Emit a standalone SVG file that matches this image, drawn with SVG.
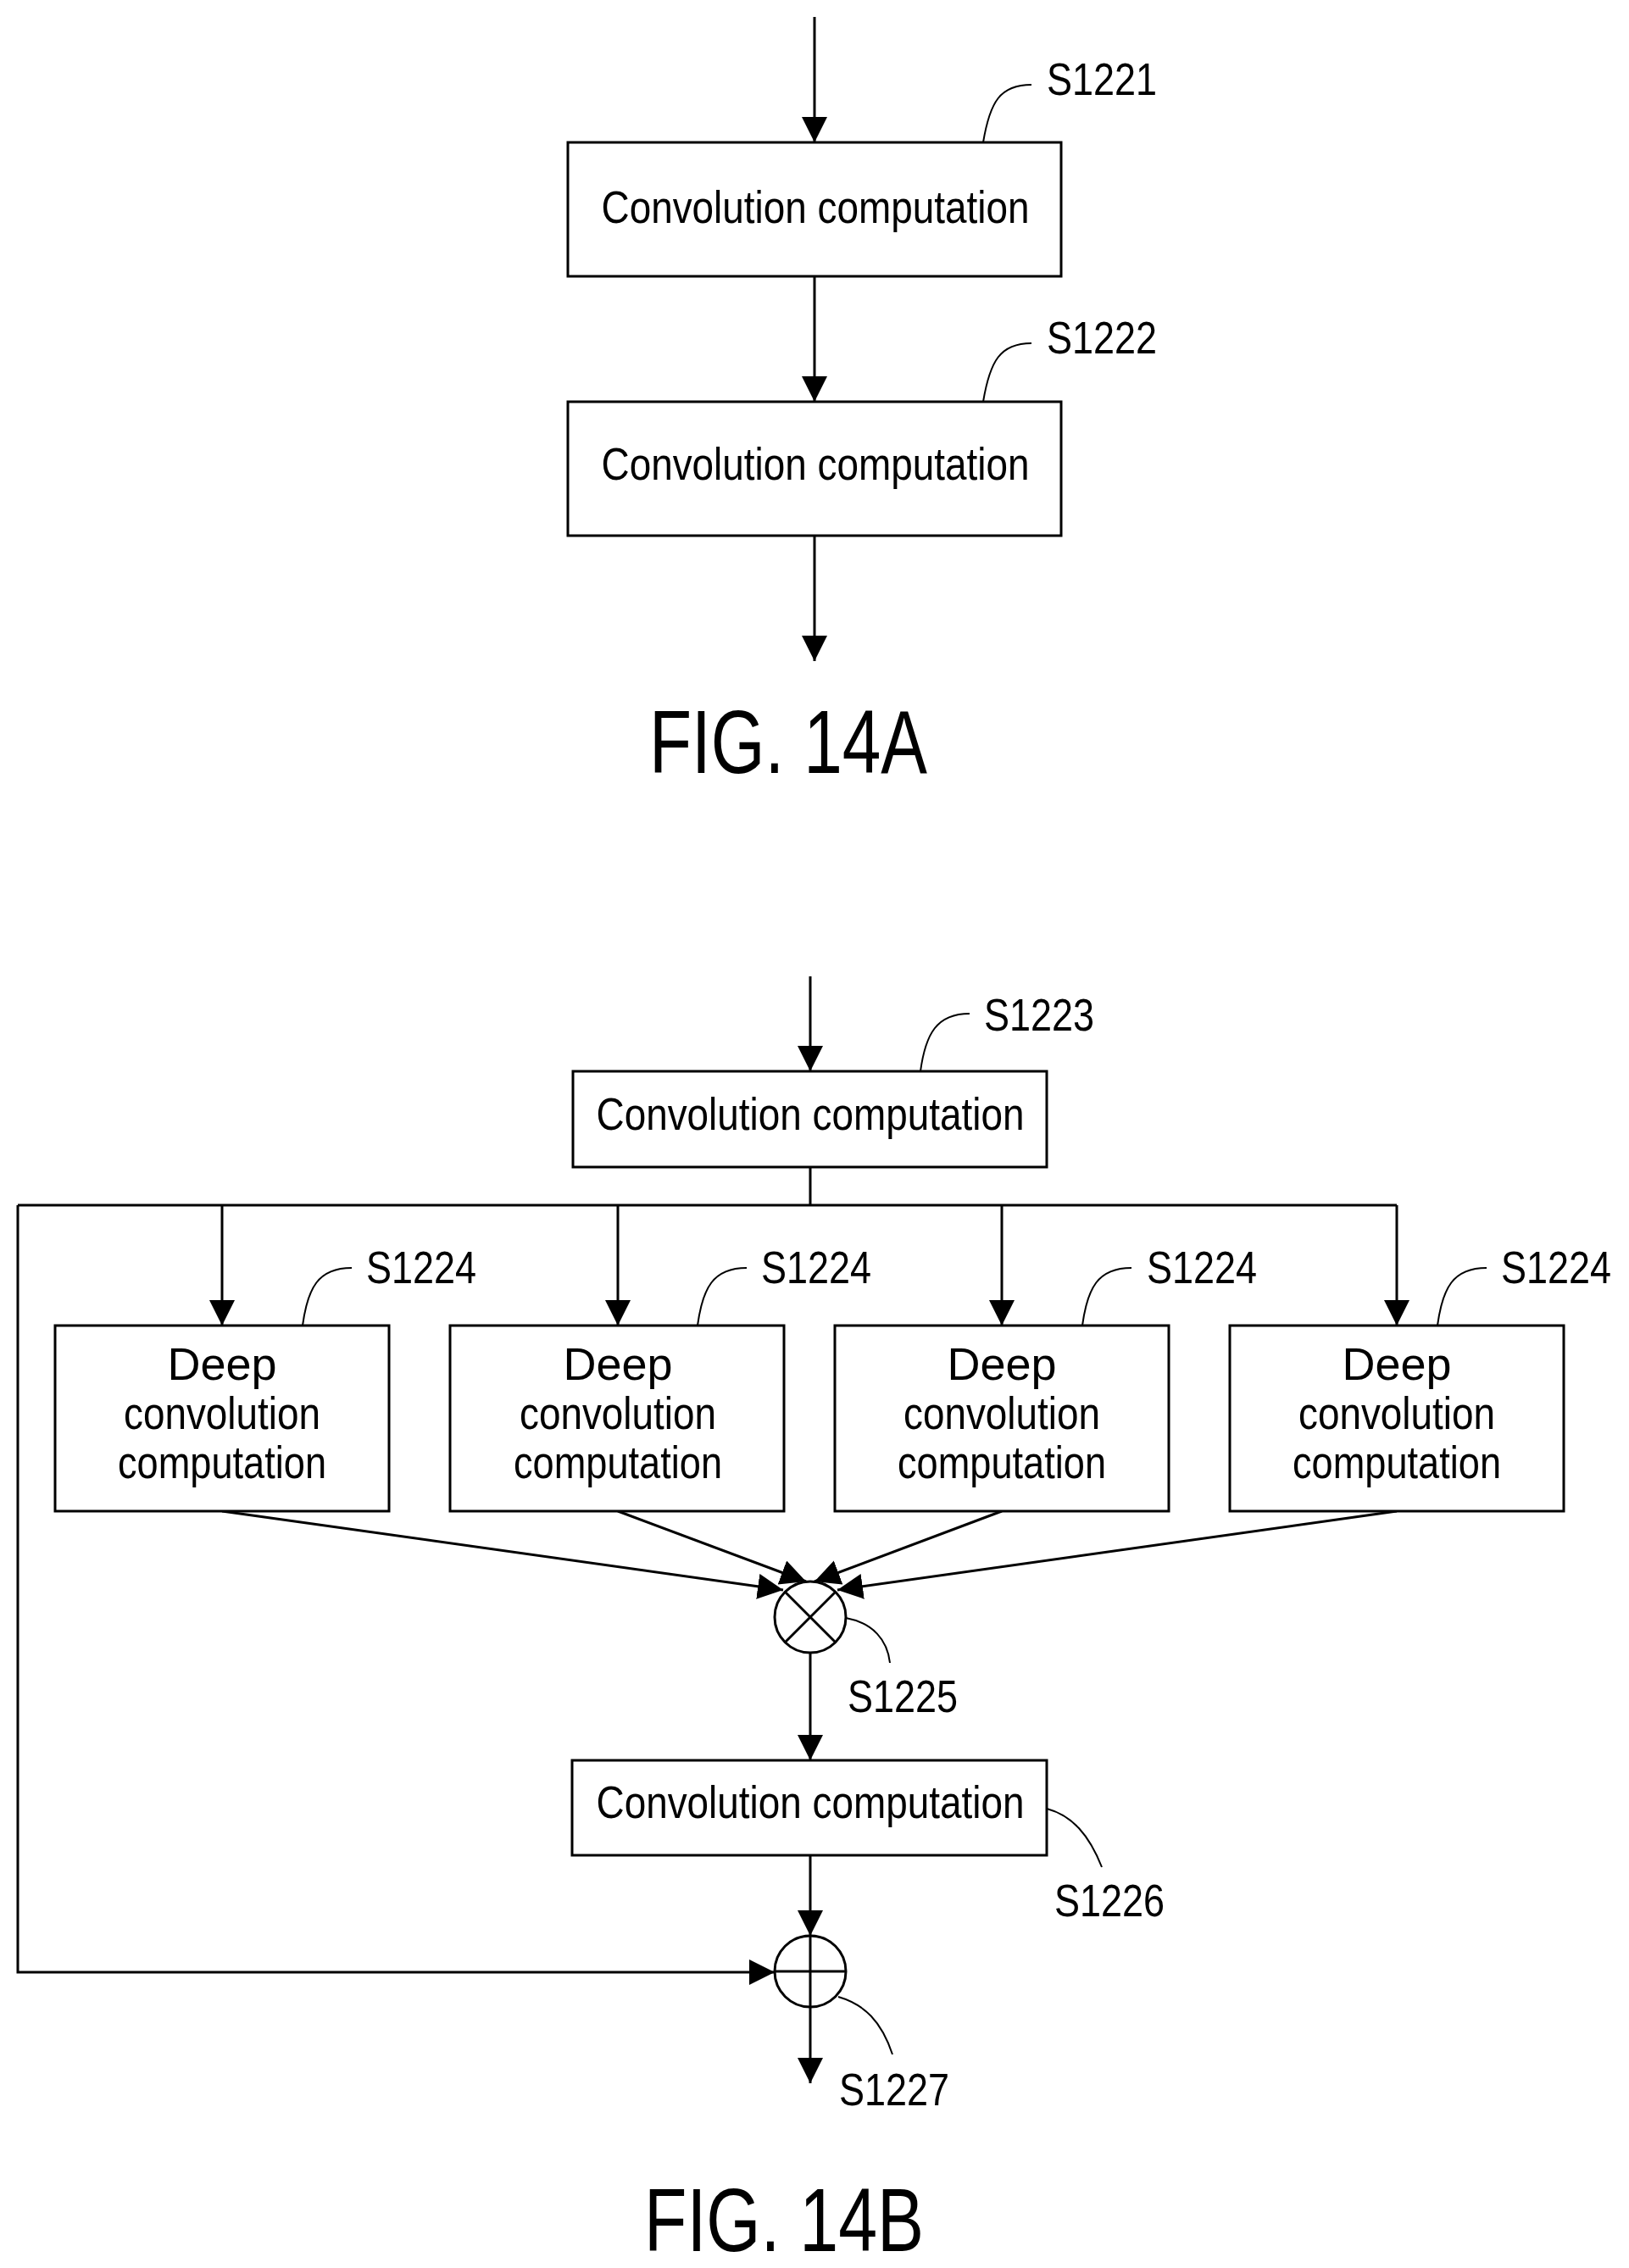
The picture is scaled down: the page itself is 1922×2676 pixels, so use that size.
<svg xmlns="http://www.w3.org/2000/svg" width="1922" height="2676" viewBox="0 0 1922 2676">
<style>
.box{fill:#fff;stroke:#000;stroke-width:3}
.ln{fill:none;stroke:#000;stroke-width:3}
.ld{fill:none;stroke:#000;stroke-width:2}
.t{font-family:"Liberation Sans",Arial,sans-serif;font-size:54px;fill:#000;text-anchor:middle}
.lb{font-family:"Liberation Sans",Arial,sans-serif;font-size:53px;fill:#000}
.fig{font-family:"Liberation Sans",Arial,sans-serif;font-size:106px;fill:#000}
</style>
<defs>
<marker id="ah" markerUnits="userSpaceOnUse" markerWidth="32" markerHeight="32" refX="30" refY="15" orient="auto">
<path d="M0,0 L30,15 L0,30 Z" fill="#000"/>
</marker>
</defs>
<rect width="1922" height="2676" fill="#fff"/>
<g id="connectors">
<line class="ln" x1="961" y1="20" x2="961" y2="168" marker-end="url(#ah)"/>
<line class="ln" x1="961" y1="326" x2="961" y2="474" marker-end="url(#ah)"/>
<line class="ln" x1="961" y1="632" x2="961" y2="780" marker-end="url(#ah)"/>
<line class="ln" x1="956" y1="1152" x2="956" y2="1264" marker-end="url(#ah)"/>
<polyline class="ln" points="956,1377 956,1422"/>
<line class="ln" x1="21" y1="1422" x2="1648" y2="1422"/>
<line class="ln" x1="262" y1="1422" x2="262" y2="1564" marker-end="url(#ah)"/>
<line class="ln" x1="729" y1="1422" x2="729" y2="1564" marker-end="url(#ah)"/>
<line class="ln" x1="1182" y1="1422" x2="1182" y2="1564" marker-end="url(#ah)"/>
<line class="ln" x1="1648" y1="1422" x2="1648" y2="1564" marker-end="url(#ah)"/>
<line class="ln" x1="262" y1="1783" x2="924" y2="1876" marker-end="url(#ah)"/>
<line class="ln" x1="729" y1="1783" x2="951" y2="1866" marker-end="url(#ah)"/>
<line class="ln" x1="1182" y1="1783" x2="961" y2="1866" marker-end="url(#ah)"/>
<line class="ln" x1="1648" y1="1783" x2="988" y2="1876" marker-end="url(#ah)"/>
<line class="ln" x1="956" y1="1950" x2="956" y2="2077" marker-end="url(#ah)"/>
<line class="ln" x1="956" y1="2189" x2="956" y2="2284" marker-end="url(#ah)"/>
<polyline class="ln" points="21,1422 21,2327 914,2327" marker-end="url(#ah)"/>
<line class="ln" x1="956" y1="2368" x2="956" y2="2458" marker-end="url(#ah)"/>
</g>
<g id="leaders">
<path class="ld" d="M1160,168 C1168,120 1180,100 1217,100"/>
<path class="ld" d="M1160,474 C1168,426 1180,405 1217,405"/>
<path class="ld" d="M1086,1264 C1092,1220 1105,1196 1144,1196"/>
<path class="ld" d="M357,1564 C363,1520 375,1496 415,1496"/>
<path class="ld" d="M823,1564 C829,1520 841,1496 881,1496"/>
<path class="ld" d="M1277,1564 C1283,1520 1295,1496 1335,1496"/>
<path class="ld" d="M1696,1564 C1702,1520 1714,1496 1754,1496"/>
<path class="ld" d="M998,1909 C1030,1915 1047,1935 1050,1962"/>
<path class="ld" d="M1235,2134 C1265,2142 1285,2165 1300,2203"/>
<path class="ld" d="M989,2356 C1020,2365 1040,2385 1053,2424"/>
</g>
<g id="s1221"><rect class="box" x="670" y="168" width="582" height="158"/><text class="t" x="962" y="263" textLength="505" lengthAdjust="spacingAndGlyphs">Convolution computation</text><text class="lb" x="1235" y="112" textLength="130" lengthAdjust="spacingAndGlyphs">S1221</text></g>
<g id="s1222"><rect class="box" x="670" y="474" width="582" height="158"/><text class="t" x="962" y="566" textLength="505" lengthAdjust="spacingAndGlyphs">Convolution computation</text><text class="lb" x="1235" y="417" textLength="130" lengthAdjust="spacingAndGlyphs">S1222</text></g>
<text class="fig" x="766" y="912" textLength="328" lengthAdjust="spacingAndGlyphs">FIG. 14A</text>
<g id="s1223"><rect class="box" x="676" y="1264" width="559" height="113"/><text class="t" x="956" y="1333" textLength="505" lengthAdjust="spacingAndGlyphs">Convolution computation</text><text class="lb" x="1161" y="1216" textLength="130" lengthAdjust="spacingAndGlyphs">S1223</text></g>
<g id="s1224a"><rect class="box" x="65" y="1564" width="394" height="219"/><text class="t" x="262" y="1628">Deep</text><text class="t" x="262" y="1686" textLength="232" lengthAdjust="spacingAndGlyphs">convolution</text><text class="t" x="262" y="1744" textLength="246" lengthAdjust="spacingAndGlyphs">computation</text><text class="lb" x="432" y="1514" textLength="130" lengthAdjust="spacingAndGlyphs">S1224</text></g>
<g id="s1224b"><rect class="box" x="531" y="1564" width="394" height="219"/><text class="t" x="729" y="1628">Deep</text><text class="t" x="729" y="1686" textLength="232" lengthAdjust="spacingAndGlyphs">convolution</text><text class="t" x="729" y="1744" textLength="246" lengthAdjust="spacingAndGlyphs">computation</text><text class="lb" x="898" y="1514" textLength="130" lengthAdjust="spacingAndGlyphs">S1224</text></g>
<g id="s1224c"><rect class="box" x="985" y="1564" width="394" height="219"/><text class="t" x="1182" y="1628">Deep</text><text class="t" x="1182" y="1686" textLength="232" lengthAdjust="spacingAndGlyphs">convolution</text><text class="t" x="1182" y="1744" textLength="246" lengthAdjust="spacingAndGlyphs">computation</text><text class="lb" x="1353" y="1514" textLength="130" lengthAdjust="spacingAndGlyphs">S1224</text></g>
<g id="s1224d"><rect class="box" x="1451" y="1564" width="394" height="219"/><text class="t" x="1648" y="1628">Deep</text><text class="t" x="1648" y="1686" textLength="232" lengthAdjust="spacingAndGlyphs">convolution</text><text class="t" x="1648" y="1744" textLength="246" lengthAdjust="spacingAndGlyphs">computation</text><text class="lb" x="1771" y="1514" textLength="130" lengthAdjust="spacingAndGlyphs">S1224</text></g>
<g id="s1225"><circle class="ln" cx="956" cy="1908" r="42"/><line class="ln" x1="926" y1="1878" x2="986" y2="1938"/><line class="ln" x1="986" y1="1878" x2="926" y2="1938"/><text class="lb" x="1000" y="2020" textLength="130" lengthAdjust="spacingAndGlyphs">S1225</text></g>
<g id="s1226"><rect class="box" x="675" y="2077" width="560" height="112"/><text class="t" x="956" y="2145" textLength="505" lengthAdjust="spacingAndGlyphs">Convolution computation</text><text class="lb" x="1244" y="2261" textLength="130" lengthAdjust="spacingAndGlyphs">S1226</text></g>
<g id="s1227"><circle class="ln" cx="956" cy="2326" r="42"/><line class="ln" x1="914" y1="2326" x2="998" y2="2326"/><line class="ln" x1="956" y1="2284" x2="956" y2="2368"/><text class="lb" x="990" y="2484" textLength="130" lengthAdjust="spacingAndGlyphs">S1227</text></g>
<text class="fig" x="760" y="2656" textLength="330" lengthAdjust="spacingAndGlyphs">FIG. 14B</text>
</svg>
